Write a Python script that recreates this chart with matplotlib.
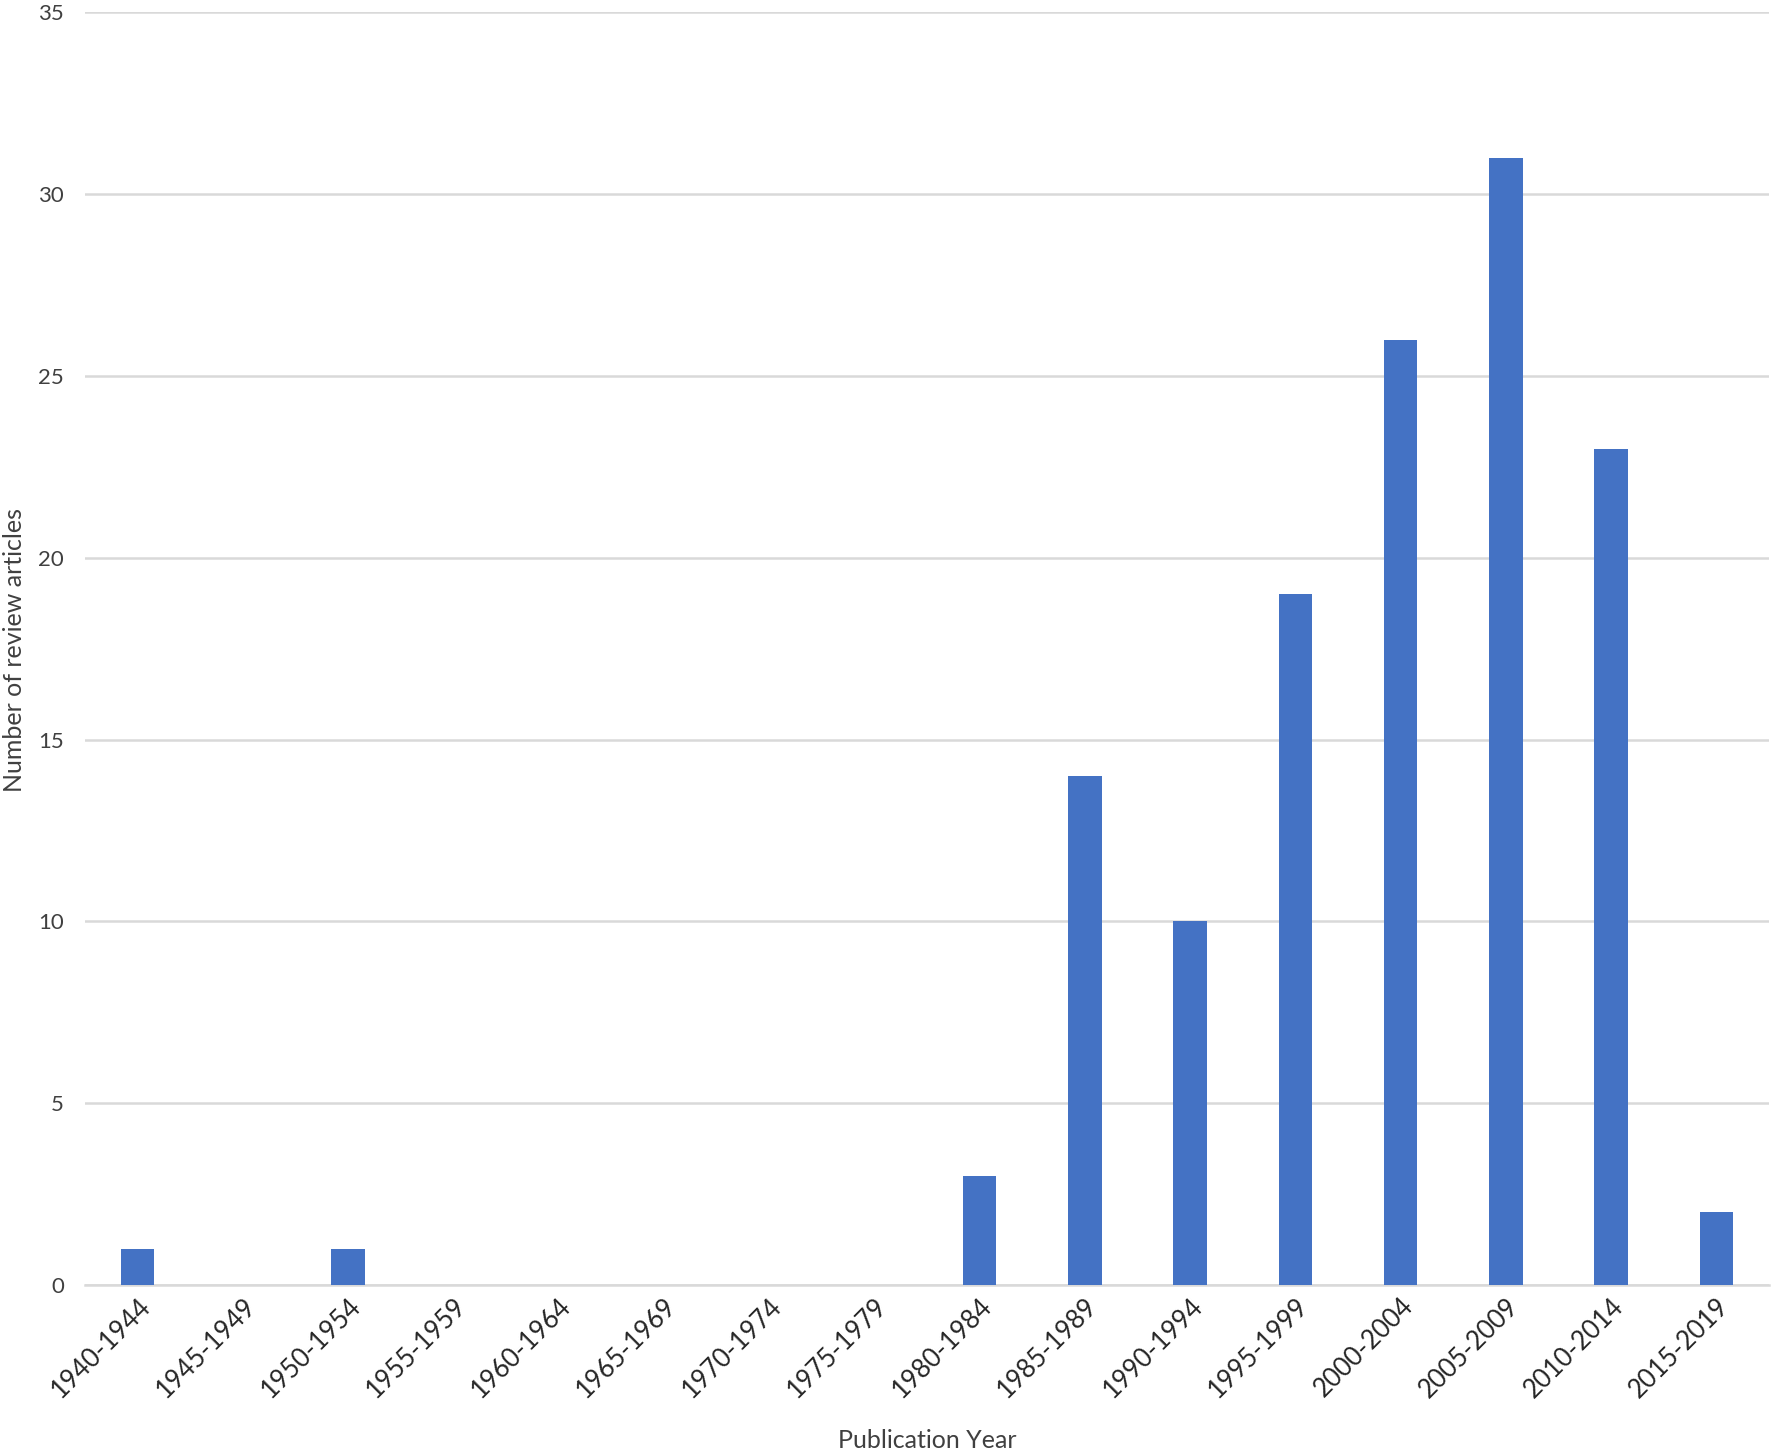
import matplotlib
matplotlib.use("Agg")
import matplotlib.pyplot as plt
import numpy as np

categories = ["1940-1944", "1945-1949", "1950-1954", "1955-1959", "1960-1964",
              "1965-1969", "1970-1974", "1975-1979", "1980-1984", "1985-1989",
              "1990-1994", "1995-1999", "2000-2004", "2005-2009", "2010-2014",
              "2015-2019"]
values = [1, 0, 1, 0, 0, 0, 0, 0, 3, 14, 10, 19, 26, 31, 23, 2]
yticks = [0, 5, 10, 15, 20, 25, 30, 35]

plt.rcParams['font.family'] = ['Lato', 'DejaVu Sans']

W, H = 1772, 1453
fig = plt.figure(figsize=(W / 100, H / 100), dpi=100)
ax = fig.add_axes([85 / W, 1 - 1285 / H, (1769 - 85) / W, (1285 - 12.4) / H])

x = np.arange(len(categories))
ax.bar(x, values, width=0.32, color="#4472C4", zorder=3)

ax.set_xlim(-0.5, len(categories) - 0.5)
ax.set_ylim(0, 35)
ax.set_yticks(yticks)
ax.set_yticklabels([str(t) for t in yticks], fontsize=16, color="#404040")
ax.yaxis.grid(True, color="#d9d9d9", linewidth=1.8, zorder=0)
ax.tick_params(axis='y', length=0, pad=15)
ax.tick_params(axis='x', length=0, pad=6)

ax.set_xticks(x)
ax.set_xticklabels(categories, rotation=45, ha='right', rotation_mode='anchor',
                   fontsize=18.5, color="#262626")
for lbl in ax.get_xticklabels():
    lbl.set_verticalalignment('top')

for s in ["top", "right", "left"]:
    ax.spines[s].set_visible(False)
ax.spines["bottom"].set_color("#d9d9d9")
ax.spines["bottom"].set_linewidth(1.8)

fig.text(927 / W, 1 - 1440 / H, "Publication Year", ha='center', va='center',
         fontsize=18, color="#404040")
fig.text(15 / W, 1 - 650 / H, "Number of review articles", ha='center', va='center',
         rotation=90, fontsize=18, color="#404040")

fig.savefig("out.png", dpi=100, facecolor="white")
